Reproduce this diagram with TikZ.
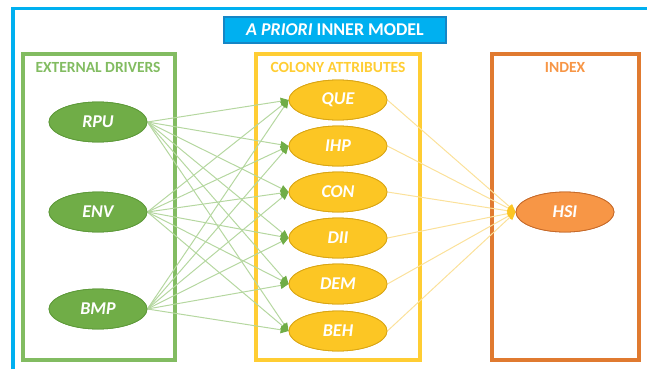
\documentclass[tikz,border=0pt]{standalone}
\usepackage{fontspec}
\setmainfont{Carlito}
\usetikzlibrary{shapes.geometric,arrows.meta}
\definecolor{frameblue}{HTML}{00B0F0}
\definecolor{titleedge}{HTML}{1586C6}
\definecolor{drvgreen}{HTML}{70AD47}
\definecolor{drvedge}{HTML}{5E9A3A}
\definecolor{drvbox}{HTML}{82BC61}
\definecolor{drvline}{HTML}{B5D7A0}
\definecolor{attyellow}{HTML}{FCC624}
\definecolor{attedge}{HTML}{D9A514}
\definecolor{attbox}{HTML}{FFCD33}
\definecolor{attline}{HTML}{FBE19A}
\definecolor{idxorange}{HTML}{F79646}
\definecolor{idxedge}{HTML}{C66A2A}
\definecolor{idxbox}{HTML}{E07A30}
\tikzset{
  oval/.style={ellipse, minimum width=98pt, minimum height=40pt, inner sep=0pt,
    line width=0.8pt, text=white, font=\fontsize{18}{18}\selectfont\bfseries\itshape},
  drv/.style={oval, fill=drvgreen, draw=drvedge},
  att/.style={oval, fill=attyellow, draw=attedge},
  idx/.style={oval, fill=idxorange, draw=idxedge},
  group/.style={line width=3.4pt},
  grouptitle/.style={font=\fontsize{15.5}{15.5}\selectfont\bfseries},
  drvlink/.style={draw=drvline, line width=1pt,
    -{Triangle[length=8pt,width=7pt,color=drvgreen]}},
  attlink/.style={draw=attline, line width=1pt,
    -{Triangle[length=8pt,width=7pt,color=attyellow]}},
}
\begin{document}
\begin{tikzpicture}[x=1pt,y=-1pt]
\useasboundingbox (0,0) rectangle (647,369);
% page frame: top and left rules
\draw[frameblue, line width=3.4pt] (13,369) -- (13,8.5) -- (647,8.5);
% heading
\node[fill=frameblue, draw=titleedge, line width=1.8pt, minimum width=222pt,
  minimum height=26pt, inner sep=0pt, text=white,
  font=\fontsize{18}{18}\selectfont\bfseries] (head) at (335,30)
  {\textit{A PRIORI} INNER MODEL};
% group frames
\draw[group, draw=drvbox] (23,54) rectangle (175,360);
\draw[group, draw=attbox] (256,54) rectangle (420,360);
\draw[group, draw=idxbox] (492,54) rectangle (639,360);
\node[grouptitle, text=drvbox] (tdrv) at (98,67) {EXTERNAL DRIVERS};
\node[grouptitle, text=attbox] (tatt) at (338,67) {COLONY ATTRIBUTES};
\node[grouptitle, text=idxorange] (tidx) at (565,67) {INDEX};
% external drivers
\node[drv] (RPU) at (98,122) {RPU};
\node[drv] (ENV) at (98,212) {ENV};
\node[drv] (BMP) at (98,309) {BMP};
% colony attributes
\node[att] (QUE) at (338,100) {QUE};
\node[att] (IHP) at (338,146) {IHP};
\node[att] (CON) at (338,192) {CON};
\node[att] (DII) at (338,238) {DII};
\node[att] (DEM) at (338,284) {DEM};
\node[att] (BEH) at (338,331) {BEH};
% index
\node[idx] (HSI) at (565,212) {HSI};
% links
\foreach \s in {RPU,ENV,BMP}
  \foreach \t in {QUE,IHP,CON,DII,DEM,BEH}
    \draw[drvlink] (\s.east) -- (\t.west);
\foreach \t in {QUE,IHP,CON,DII,DEM,BEH}
  \draw[attlink] (\t.east) -- (HSI.west);
% redraw ovals above the link ends
\foreach \n/\st in {RPU/drv,ENV/drv,BMP/drv,QUE/att,IHP/att,CON/att,DII/att,DEM/att,BEH/att,HSI/idx}
  \node[\st] at (\n) {\n};
\end{tikzpicture}
\end{document}
